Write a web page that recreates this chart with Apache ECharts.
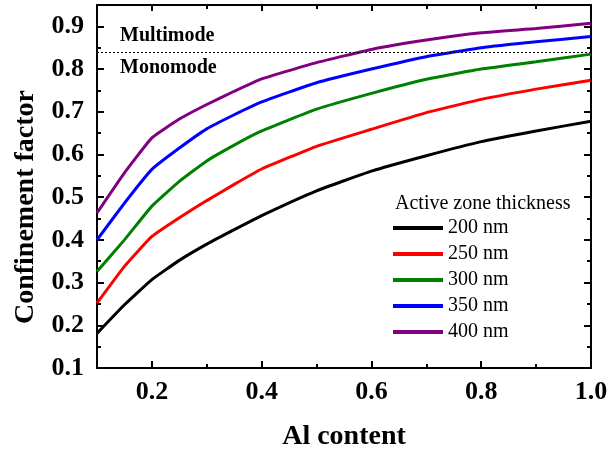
<!DOCTYPE html>
<html>
<head>
<meta charset="utf-8">
<script src="https://cdn.jsdelivr.net/npm/echarts@6/dist/echarts.min.js"></script>
<style>html,body{margin:0;padding:0;background:#fff;}#c{width:608px;height:453px;}</style>
</head>
<body>
<div id="c"></div>
<script>
// Al content (x) values
var alContent = [0.1, 0.15, 0.2, 0.25, 0.3, 0.35, 0.4, 0.5, 0.6, 0.7, 0.8, 0.9, 1.0];
// Confinement factor per active zone thickness
var t200 = [0.181, 0.248, 0.307, 0.352, 0.390, 0.424, 0.457, 0.515, 0.561, 0.597, 0.630, 0.655, 0.678];
var t250 = [0.252, 0.338, 0.408, 0.452, 0.492, 0.530, 0.566, 0.619, 0.659, 0.698, 0.729, 0.753, 0.774];
var t300 = [0.326, 0.400, 0.479, 0.537, 0.585, 0.622, 0.655, 0.706, 0.743, 0.776, 0.800, 0.817, 0.835];
var t350 = [0.400, 0.486, 0.565, 0.615, 0.660, 0.693, 0.723, 0.768, 0.800, 0.829, 0.850, 0.864, 0.876];
var t400 = [0.463, 0.557, 0.639, 0.683, 0.717, 0.748, 0.777, 0.815, 0.846, 0.868, 0.885, 0.895, 0.907];
var seriesNames = ['200 nm', '250 nm', '300 nm', '350 nm', '400 nm'];
var seriesColors = ['#000000', '#ff0000', '#008000', '#0000ff', '#800080'];
var modeBoundary = 0.845;
// tick positions / labels
var xMajor = [0.2, 0.4, 0.6, 0.8, 1.0];
var xMinor = [0.3, 0.5, 0.7, 0.9];
var yMajor = [0.1, 0.2, 0.3, 0.4, 0.5, 0.6, 0.7, 0.8, 0.9];
var yMinor = [0.15, 0.25, 0.35, 0.45, 0.55, 0.65, 0.75, 0.85];

var FONT = '"Liberation Serif", "Times New Roman", serif';
var allValues = [t200, t250, t300, t350, t400];

function pairs(ys) { return alContent.map(function (x, i) { return [x, ys[i]]; }); }

function xAx(pos, ticks, len, showLine, labels) {
  return {
    type: 'value', gridIndex: 0, position: pos, min: 0.1, max: 1.0, interval: 0.1,
    axisLine: { show: showLine, onZero: false, lineStyle: { color: '#000', width: 2 } },
    axisTick: { show: true, inside: true, length: len, customValues: ticks, lineStyle: { color: '#000', width: 2 } },
    axisLabel: labels ? {
      show: true, customValues: labels, margin: 11,
      formatter: function (v) { return Number(v).toFixed(1); },
      fontFamily: FONT, fontSize: 26, fontWeight: 'bold', color: '#000'
    } : { show: false },
    splitLine: { show: false }
  };
}
function yAx(pos, ticks, len, showLine, labels) {
  return {
    type: 'value', gridIndex: 0, position: pos, min: 0.1, max: 0.95, interval: 0.1,
    axisLine: { show: showLine, onZero: false, lineStyle: { color: '#000', width: 2 } },
    axisTick: { show: true, inside: true, length: len, customValues: ticks, lineStyle: { color: '#000', width: 2 } },
    axisLabel: labels ? {
      show: true, customValues: labels, margin: 13,
      formatter: function (v) { return Number(v).toFixed(1); },
      fontFamily: FONT, fontSize: 26, fontWeight: 'bold', color: '#000'
    } : { show: false },
    splitLine: { show: false }
  };
}

var xMain = xAx('bottom', xMajor, 7, true, xMajor);
xMain.name = 'Al content';
xMain.nameLocation = 'middle';
xMain.nameGap = 55;
xMain.nameTextStyle = { fontFamily: FONT, fontSize: 28, fontWeight: 'bold', color: '#000' };

var series = seriesNames.map(function (n, i) {
  var s = {
    name: n, type: 'line', xAxisIndex: 0, yAxisIndex: 0,
    data: pairs(allValues[i]), showSymbol: false, symbol: 'none',
    smooth: 0.12,
    lineStyle: { color: seriesColors[i], width: 3 }, itemStyle: { color: seriesColors[i] },
    z: 3
  };
  if (i === 0) {
    s.markLine = {
      silent: true, symbol: ['none', 'none'], label: { show: false },
      lineStyle: { type: [2, 2], color: '#000', width: 1 },
      data: [{ yAxis: modeBoundary }]
    };
  }
  return s;
});

var chart = echarts.init(document.getElementById('c'), null, { renderer: 'canvas' });
chart.setOption({
  backgroundColor: '#ffffff',
  animation: false,
  grid: { left: 97, right: 17, top: 5, bottom: 85, containLabel: false, outerBoundsMode: 'none' },
  xAxis: [
    xMain,
    xAx('bottom', xMinor, 4, false, null),
    xAx('top', xMajor, 6, true, null),
    xAx('top', xMinor, 4, false, null)
  ],
  yAxis: [
    yAx('left', yMajor, 7, true, yMajor),
    yAx('left', yMinor, 4, false, null),
    yAx('right', yMajor, 7, true, null),
    yAx('right', yMinor, 4, false, null)
  ],
  legend: {
    orient: 'vertical', left: 388, top: 213,
    data: seriesNames.map(function (n) { return { name: n, icon: 'rect' }; }),
    itemWidth: 50, itemHeight: 4, itemGap: 6,
    textStyle: { fontFamily: FONT, fontSize: 20, color: '#000', lineHeight: 20 },
    selectedMode: false
  },
  graphic: [
    { type: 'text', left: 120, top: 26, style: { text: 'Multimode', font: 'bold 20px ' + FONT, fill: '#000' } },
    { type: 'text', left: 120, top: 58, style: { text: 'Monomode', font: 'bold 20px ' + FONT, fill: '#000' } },
    { type: 'text', left: 395, top: 194, style: { text: 'Active zone thickness', font: '20px ' + FONT, fill: '#000' } },
    { type: 'text', x: 26, y: 207, rotation: Math.PI / 2,
      style: { text: 'Confinement factor', font: 'bold 28px ' + FONT, fill: '#000', textAlign: 'center', textVerticalAlign: 'middle' } }
  ],
  series: series
});
</script>
</body>
</html>
